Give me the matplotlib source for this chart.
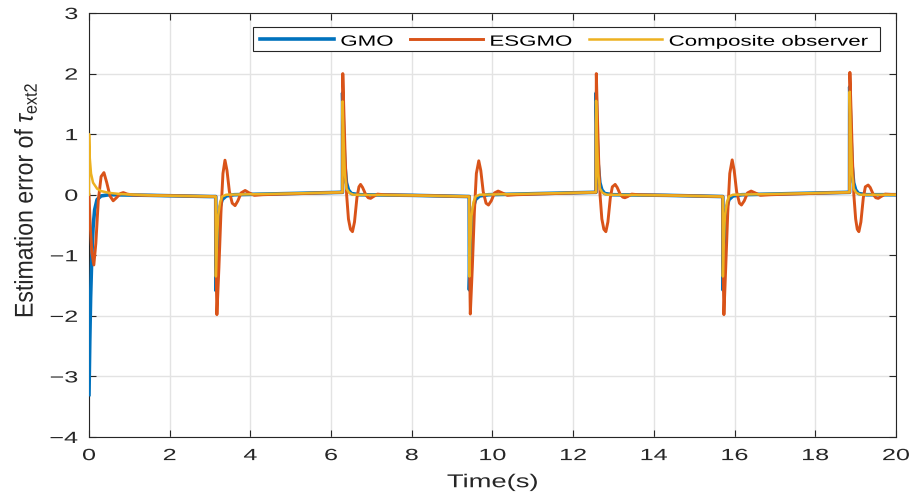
import numpy as np
import matplotlib

matplotlib.use("Agg")

import matplotlib.pyplot as plt
from matplotlib.lines import Line2D
from matplotlib.patches import Rectangle
from matplotlib.patheffects import AbstractPathEffect
from matplotlib.transforms import Affine2D

# Estimation error of the second joint torque for three observers.
gmo_t = [0.0, 0.02, 0.04, 0.07, 0.10, 0.14, 0.20, 0.30, 0.50, 1.5, 3.0, 3.141,
         3.145, 3.17, 3.20, 3.25, 3.30, 3.40, 3.60, 5.0, 6.282,
         6.285, 6.31, 6.34, 6.38, 6.43, 6.50, 6.70, 8.0, 9.424,
         9.427, 9.45, 9.48, 9.53, 9.58, 9.68, 9.90, 11.2, 12.565,
         12.568, 12.59, 12.62, 12.66, 12.71, 12.78, 12.98, 14.3, 15.707,
         15.710, 15.73, 15.76, 15.81, 15.86, 15.96, 16.18, 17.5, 18.849,
         18.852, 18.88, 18.91, 18.95, 19.00, 19.07, 19.27, 20.0]
gmo_y = [-3.30, -2.40, -1.70, -1.00, -0.55, -0.25, -0.08, -0.02, 0.0, -0.01, -0.03, -0.03,
         -1.58, -1.00, -0.50, -0.20, -0.08, -0.02, 0.0, 0.02, 0.04,
         1.68, 1.00, 0.50, 0.20, 0.08, 0.02, 0.0, -0.01, -0.03,
         -1.57, -1.00, -0.50, -0.20, -0.08, -0.02, 0.0, 0.02, 0.04,
         1.68, 1.00, 0.50, 0.20, 0.08, 0.02, 0.0, -0.01, -0.03,
         -1.57, -1.00, -0.50, -0.20, -0.08, -0.02, 0.0, 0.02, 0.04,
         1.78, 1.05, 0.50, 0.20, 0.08, 0.02, 0.0, 0.0]

esgmo_t = [0.0, 0.03, 0.07, 0.12, 0.17, 0.23, 0.30, 0.37, 0.44, 0.52, 0.60, 0.68, 0.78, 0.85, 0.95, 1.10, 1.5, 3.141,
           3.150, 3.17, 3.22, 3.27, 3.32, 3.37, 3.42, 3.48, 3.55, 3.62, 3.69, 3.77, 3.87, 3.97, 4.10, 4.3, 6.282,
           6.290, 6.32, 6.35, 6.385, 6.43, 6.48, 6.53, 6.58, 6.64, 6.69, 6.73, 6.78, 6.86, 6.92, 6.98, 7.05, 7.15, 7.3, 9.424,
           9.433, 9.45, 9.50, 9.55, 9.60, 9.66, 9.71, 9.77, 9.84, 9.90, 9.97, 10.05, 10.14, 10.24, 10.37, 10.6, 12.565,
           12.573, 12.60, 12.63, 12.665, 12.71, 12.76, 12.81, 12.86, 12.92, 12.97, 13.04, 13.09, 13.17, 13.23, 13.28, 13.35, 13.45, 13.6, 15.707,
           15.716, 15.735, 15.78, 15.83, 15.88, 15.94, 15.99, 16.05, 16.12, 16.17, 16.24, 16.32, 16.41, 16.51, 16.64, 16.9, 18.849,
           18.857, 18.89, 18.92, 18.955, 19.00, 19.04, 19.08, 19.13, 19.19, 19.24, 19.31, 19.36, 19.44, 19.50, 19.56, 19.63, 19.73, 20.0]
esgmo_y = [0.0, -0.50, -0.95, -1.16, -0.80, -0.10, 0.30, 0.365, 0.20, -0.02, -0.10, -0.05, 0.02, 0.035, 0.01, -0.005, -0.01, -0.03,
           -1.20, -1.98, -1.20, -0.30, 0.35, 0.57, 0.40, 0.05, -0.14, -0.18, -0.10, 0.03, 0.07, 0.03, -0.01, 0.0, 0.04,
           2.00, 1.30, 0.60, 0.0, -0.40, -0.57, -0.61, -0.45, -0.05, 0.13, 0.17, 0.12, 0.0, -0.05, -0.06, -0.03, 0.01, 0.0, -0.03,
           -1.20, -1.97, -1.20, -0.30, 0.35, 0.56, 0.40, 0.05, -0.14, -0.17, -0.10, 0.03, 0.06, 0.03, -0.01, 0.0, 0.04,
           2.00, 1.30, 0.60, 0.0, -0.40, -0.57, -0.61, -0.45, -0.05, 0.13, 0.17, 0.12, 0.0, -0.04, -0.05, -0.03, 0.01, 0.0, -0.03,
           -1.20, -1.98, -1.20, -0.30, 0.35, 0.575, 0.40, 0.05, -0.14, -0.17, -0.10, 0.03, 0.06, 0.03, -0.01, 0.0, 0.04,
           2.02, 1.30, 0.60, 0.0, -0.40, -0.57, -0.61, -0.45, -0.05, 0.13, 0.16, 0.12, 0.0, -0.05, -0.06, -0.03, 0.01, 0.0]

comp_t = [0.0, 0.002, 0.02, 0.05, 0.10, 0.20, 0.30, 0.50, 0.80, 1.5, 3.141,
          3.145, 3.17, 3.20, 3.25, 3.30, 3.40, 5.0, 6.282,
          6.285, 6.31, 6.34, 6.38, 6.45, 6.55, 8.0, 9.424,
          9.427, 9.45, 9.48, 9.53, 9.58, 9.68, 11.2, 12.565,
          12.568, 12.59, 12.62, 12.66, 12.73, 12.83, 14.3, 15.707,
          15.710, 15.73, 15.76, 15.81, 15.86, 15.96, 17.5, 18.849,
          18.852, 18.88, 18.91, 18.95, 19.02, 19.12, 20.0]
comp_y = [0.0, 1.00, 0.60, 0.35, 0.20, 0.10, 0.06, 0.03, 0.01, -0.01, -0.03,
          -1.35, -0.80, -0.35, -0.12, -0.03, 0.0, 0.02, 0.04,
          1.54, 0.90, 0.35, 0.10, 0.03, 0.0, -0.01, -0.03,
          -1.35, -0.80, -0.35, -0.12, -0.03, 0.0, 0.02, 0.04,
          1.55, 0.90, 0.35, 0.10, 0.03, 0.0, -0.01, -0.03,
          -1.35, -0.80, -0.35, -0.12, -0.03, 0.0, 0.02, 0.04,
          1.70, 0.95, 0.35, 0.10, 0.03, 0.0, 0.0]

series_names = ['GMO', 'ESGMO', 'Composite observer']
x_ticks = np.arange(0, 21, 2)
y_ticks = np.arange(-4, 4, 1)

colors = ['#0072BD', '#D95319', '#EDB120']
widths = [2.6, 2.1, 1.8]
ink = '#262626'


class Widen(AbstractPathEffect):
  '''Draws text glyphs stretched (or squeezed) along the writing direction.'''
  def __init__(self, factor, anchor='center'):
    super().__init__()
    self.factor = factor
    self.anchor = anchor

  def draw_path(self, renderer, gc, tpath, affine, rgbFace=None):
    ext = tpath.get_extents()
    if self.anchor == 'left':
      x0 = ext.x0
    elif self.anchor == 'right':
      x0 = ext.x1
    else:
      x0 = 0.5 * (ext.x0 + ext.x1)
    widen = Affine2D().translate(-x0, 0).scale(self.factor, 1).translate(x0, 0)
    renderer.draw_path(gc, tpath, widen + affine, rgbFace)


plt.rcParams['font.family'] = ['Liberation Sans', 'DejaVu Sans']
plt.rcParams['mathtext.fontset'] = 'custom'
plt.rcParams['mathtext.rm'] = 'Liberation Sans'
plt.rcParams['mathtext.it'] = 'Liberation Sans:italic'

fig = plt.figure(figsize=(9.09, 4.93), dpi=100, facecolor='white')
ax = fig.add_axes([0.0979, 0.1136, 0.8878, 0.8600])

for t, y, c, w, name in zip([gmo_t, esgmo_t, comp_t], [gmo_y, esgmo_y, comp_y],
                            colors, widths, series_names):
  ax.plot(t, y, color=c, linewidth=w, label=name, zorder=3)

ax.set_xlim(0, 20)
ax.set_ylim(-4, 3)
ax.set_xticks(x_ticks)
ax.set_yticks(y_ticks)

# Box, inward ticks and light grid.
ax.grid(True, color='#e3e3e3', linewidth=1.0)
ax.set_axisbelow(True)
for s in ax.spines.values():
  s.set_linewidth(0.8)
  s.set_color(ink)
ax.tick_params(axis='both', direction='in', top=True, right=True, length=5,
    width=0.8, color=ink, labelsize=11.7, labelcolor=ink, pad=8)
for lab in ax.get_xticklabels():
  lab.set_path_effects([Widen(1.55, 'center')])
for lab in ax.get_yticklabels():
  lab.set_path_effects([Widen(1.55, 'right')])

xl = ax.set_xlabel('Time(s)', fontsize=13.4, color=ink, labelpad=8)
xl.set_path_effects([Widen(1.47, 'center')])
yl = ax.set_ylabel(r'Estimation error of $\tau_{\mathrm{ext2}}$', fontsize=18.5,
    color=ink)
yl.set_path_effects([Widen(0.9, 'center')])
ax.yaxis.set_label_coords(-0.062, 0.559)

# Legend box drawn in pixel-measured axes coordinates.
def px(x, y):
  return (x - 89) / 807.0, (437 - y) / 424.0

x0, y0 = px(252.7, 50.7)
x1, y1 = px(880.0, 26.7)
ax.add_patch(Rectangle((x0, y0), x1 - x0, y1 - y0, transform=ax.transAxes,
    facecolor='white', edgecolor=ink, linewidth=0.8, zorder=10, clip_on=False))
handle_px = [(260, 334), (410, 483), (589, 662)]
text_px = [340.7, 490.0, 669.0]
for (h0, h1), tx, c, w, name in zip(handle_px, text_px, colors, widths, series_names):
  a, ly = px(h0, 39.0)
  b, _ = px(h1, 39.0)
  ax.add_line(Line2D([a, b], [ly, ly], transform=ax.transAxes, color=c,
      linewidth=w, zorder=11, clip_on=False))
  tx0, ty = px(tx, 45.7)
  t = ax.text(tx0, ty, name, transform=ax.transAxes, fontsize=10.7, color='black',
      ha='left', va='baseline', zorder=11)
  t.set_path_effects([Widen(1.5, 'left')])

fig.savefig('out.png', dpi=100, facecolor=fig.get_facecolor())
plt.close()
